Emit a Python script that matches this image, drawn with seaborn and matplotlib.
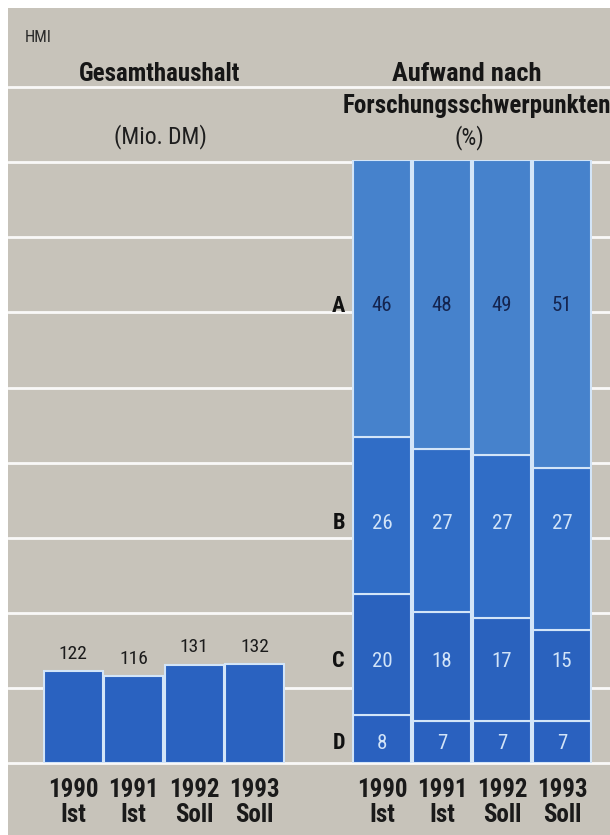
import matplotlib
matplotlib.use("Agg")
import matplotlib.pyplot as plt
from matplotlib import font_manager as fm
import seaborn as sns
import pandas as pd

# --- data -------------------------------------------------------------
years = ["1990\nIst", "1991\nIst", "1992\nSoll", "1993\nSoll"]
budget_total = [122, 116, 131, 132]          # Gesamthaushalt, Mio. DM
focus_areas = ["A", "B", "C", "D"]
share_A = [46, 48, 49, 51]                   # Aufwand nach Forschungsschwerpunkten, %
share_B = [26, 27, 27, 27]
share_C = [20, 18, 17, 15]
share_D = [8, 7, 7, 7]

# --- styling ----------------------------------------------------------
sns.set_theme(style="white")
installed = {f.name for f in fm.fontManager.ttflist}
narrow = next((n for n in ["Roboto Condensed", "Asap Condensed", "Barlow Semi Condensed"]
               if n in installed), "DejaVu Sans")
plt.rcParams["font.family"] = [narrow, "DejaVu Sans"]

BG = "#c7c3ba"
EDGE = "#d3e5f8"
BAR_LEFT = "#2a62c0"
SEG_COLORS = {"A": "#4682cc", "B": "#306dc6", "C": "#2a62be", "D": "#2a61bf"}
SEG_TEXT = {"A": "#14244f", "B": "#d2e4f8", "C": "#d2e4f8", "D": "#d2e4f8"}
INK = "#161616"

W, H = 610, 835
PX_PER_MIO = 0.751          # vertical scale of the budget panel
BASE_PX = 763               # baseline (pixel row from top)
TOP_PX = 160                # top of the share columns


def fx(px):
    return px / W


def fy(px):
    return 1 - px / H


fig = plt.figure(figsize=(W / 100, H / 100), dpi=100, facecolor="white")

# background panel with the ruled lines (every 100 Mio. DM)
ax_bg = fig.add_axes([fx(8), 0, 1 - fx(8), 1 - 8 / H])
ax_bg.set_facecolor(BG)
ax_bg.set_xlim(0, 1)
ax_bg.set_ylim(-(H - BASE_PX) / PX_PER_MIO, (BASE_PX - 8) / PX_PER_MIO)
for level in range(0, 1000, 100):
    ax_bg.axhline(level, color="white", lw=2.0, alpha=0.9)
ax_bg.set_xticks([])
ax_bg.set_yticks([])
for s in ax_bg.spines.values():
    s.set_visible(False)

# --- left panel: total budget -----------------------------------------
ax1 = fig.add_axes([fx(43), fy(BASE_PX), fx(285 - 43), (BASE_PX - TOP_PX) / H])
ax1.patch.set_alpha(0)
df_total = pd.DataFrame({"year": years, "total": budget_total})
sns.barplot(data=df_total, x="year", y="total", ax=ax1, color=BAR_LEFT,
            saturation=1, width=0.97, edgecolor=EDGE, linewidth=1.5)
ax1.set_xlim(-0.5, 3.5)
ax1.set_ylim(0, (BASE_PX - TOP_PX) / PX_PER_MIO)
ax1.bar_label(ax1.containers[0], labels=[str(v) for v in budget_total],
              padding=6, fontsize=14, color="#1b1b1b")

# --- right panel: shares by research focus ----------------------------
ax2 = fig.add_axes([fx(352), fy(BASE_PX), fx(592 - 352), (BASE_PX - TOP_PX) / H])
ax2.patch.set_alpha(0)
shares = {"A": share_A, "B": share_B, "C": share_C, "D": share_D}
bottom = [0] * len(years)
for seg in ["D", "C", "B", "A"]:
    df_seg = pd.DataFrame({"year": years, "share": shares[seg]})
    sns.barplot(data=df_seg, x="year", y="share", ax=ax2, color=SEG_COLORS[seg],
                saturation=1, width=0.97, edgecolor=EDGE, linewidth=1.5,
                bottom=bottom)
    bottom = [b + v for b, v in zip(bottom, shares[seg])]
ax2.set_xlim(-0.5, 3.5)
ax2.set_ylim(0, 100)

# row labels are set in fixed rows, one row per research focus
row_y = {"A": 75.8, "B": 39.8, "C": 16.9, "D": 3.3}
for seg in focus_areas:
    ax2.text(-0.615, row_y[seg], seg, ha="right", va="center", fontsize=16,
             fontweight="bold", color="#111111")
    for i, v in enumerate(shares[seg]):
        ax2.text(i, row_y[seg], str(v), ha="center", va="center",
                 fontsize=15, color=SEG_TEXT[seg])

for ax in (ax1, ax2):
    ax.set_xlabel("")
    ax.set_ylabel("")
    ax.set_yticks([])
    ax.tick_params(axis="x", length=0, pad=11)
    for lab in ax.get_xticklabels():
        lab.set_fontsize(18)
        lab.set_fontweight("bold")
        lab.set_color("#1a1a1a")
        lab.set_linespacing(1.05)
    for s in ax.spines.values():
        s.set_visible(False)

# --- headings ---------------------------------------------------------
fig.text(fx(25), fy(37), "HMI", fontsize=12, va="center", ha="left", color="#2a2a2a")
fig.text(fx(160), fy(81), "Gesamthaushalt", fontsize=18, fontweight="bold",
         ha="center", va="baseline", color=INK)
fig.text(fx(160), fy(137), "(Mio. DM)", fontsize=17, ha="center", va="center",
         color="#1e1e1e")
fig.text(fx(467), fy(81), "Aufwand nach", fontsize=19, fontweight="bold",
         ha="center", va="baseline", color=INK)
fig.text(fx(477), fy(113), "Forschungsschwerpunkten", fontsize=18,
         fontweight="bold", ha="center", va="baseline", color=INK)
fig.text(fx(469), fy(138), "(%)", fontsize=17, ha="center", va="center",
         color="#1e1e1e")

fig.savefig("out.png", dpi=100, facecolor="white")
